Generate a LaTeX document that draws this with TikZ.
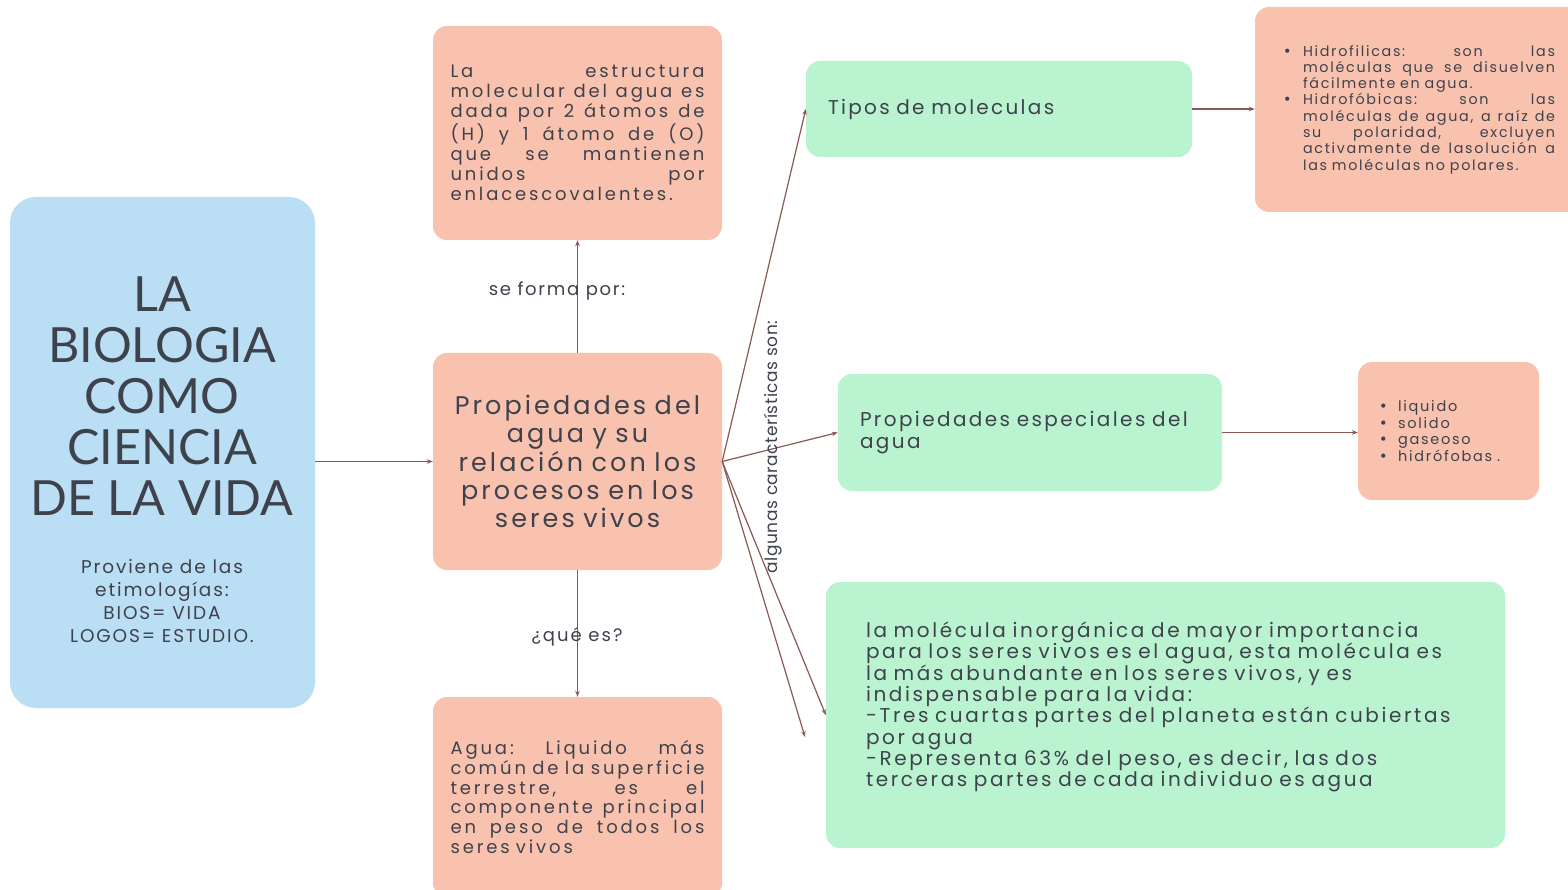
\documentclass[tikz,border=0pt]{standalone}
\usepackage{fontspec}
\usetikzlibrary{arrows.meta}
\setmainfont{Poppins}
\newfontfamily\titlefont{Lato}
\newfontfamily\pop{Poppins}
\newfontfamily\dej{DejaVu Sans}
\definecolor{bluebox}{RGB}{186,222,243}
\definecolor{salmon}{RGB}{249,194,174}
\definecolor{mint}{RGB}{185,243,208}
\definecolor{ink}{RGB}{62,66,76}
\definecolor{arrowc}{RGB}{140,88,84}
\newcommand{\jl}[2]{\makebox[#1][s]{\spaceskip=0.3em plus 1fil\relax\xspaceskip=\spaceskip #2}}
\newcommand{\bul}[1]{\makebox[#1][l]{{\dej •}}}
\begin{document}
\begin{tikzpicture}[x=1pt,y=-1pt,
  box/.style={rounded corners=14pt, inner sep=0pt, text=ink},
  conn/.style={draw=arrowc, line width=1.2pt, -{Stealth[length=6pt,width=4.5pt]}},
  lbl/.style={text=ink, inner sep=0pt}]
\path[use as bounding box, clip] (0,0) rectangle (1568,890);
\fill[white] (0,0) rectangle (1568,890);

% left blue box
\node[box, fill=bluebox, rounded corners=26pt, minimum width=305pt, minimum height=511pt] (bio) at (162.5,452.5) {};
\node[lbl, align=center, font=\titlefont\fontsize{48.5}{51}\selectfont] (title) at (162,396) {LA\\BIOLOGIA\\COMO\\CIENCIA\\DE LA VIDA};
\node[lbl, align=center, font=\pop\addfontfeature{LetterSpace=10}\fontsize{18.5}{23.3}\selectfont] (sub) at (162,601) {Proviene de las\\etimologías:\\BIOS= VIDA\\LOGOS= ESTUDIO.};

% center column
\node[box, fill=salmon, minimum width=289pt, minimum height=217pt, text width=284pt, align=center, font=\pop\addfontfeature{LetterSpace=12}\fontsize{25.5}{28.3}\selectfont] (prop) at (577.5,461.5) {Propiedades del\\agua y su\\relación con los\\procesos en los\\seres vivos};

\node[box, fill=salmon, minimum width=289pt, minimum height=214pt, text width=254pt, align=left, font=\pop\addfontfeature{LetterSpace=16}\fontsize{18}{20}\selectfont] (estr) at (577.5,133) {\jl{254pt}{La estructura}\\\jl{254pt}{molecular del agua es}\\\jl{254pt}{dada por 2 átomos de}\\\jl{254pt}{(H) y 1 átomo de (O)}\\\jl{254pt}{que se mantienen}\\\jl{254pt}{unidos por}\\enlacescovalentes.};

\node[box, fill=salmon, minimum width=289pt, minimum height=200pt, text width=254pt, align=left, font=\pop\addfontfeature{LetterSpace=16}\fontsize{18}{19.7}\selectfont] (agua) at (577.5,797) {\jl{254pt}{Agua: Liquido más}\\\jl{254pt}{común de la superficie}\\\jl{254pt}{terrestre, es el}\\\jl{254pt}{componente principal}\\\jl{254pt}{en peso de todos los}\\seres vivos};

% right side
\node[box, fill=mint, minimum width=386pt, minimum height=96pt, text width=342pt, align=left, font=\pop\addfontfeature{LetterSpace=11.5}\fontsize{20}{22}\selectfont] (tipos) at (999,109) {\raisebox{-3pt}{Tipos de moleculas}};

\node[box, fill=salmon, minimum width=328pt, minimum height=205pt, text width=272pt, align=left, font=\pop\addfontfeature{LetterSpace=12}\fontsize{14.3}{16.3}\selectfont] (hidro) at (1419,109.5) {%
\bul{20pt}\jl{252pt}{Hidrofilicas: son las}\\
\hspace*{20pt}\jl{252pt}{moléculas que se disuelven}\\
\hspace*{20pt}fácilmente en agua.\\
\bul{20pt}\jl{252pt}{Hidrofóbicas: son las}\\
\hspace*{20pt}\jl{252pt}{moléculas de agua, a raíz de}\\
\hspace*{20pt}\jl{252pt}{su polaridad, excluyen}\\
\hspace*{20pt}\jl{252pt}{activamente de lasolución a}\\
\hspace*{20pt}las moléculas no polares.};

\node[box, fill=mint, minimum width=384pt, minimum height=117pt, text width=340pt, align=left, font=\pop\addfontfeature{LetterSpace=12}\fontsize{20}{22}\selectfont] (pesp) at (1030,432.5) {\raisebox{-3pt}{Propiedades especiales del}\\\raisebox{-3pt}{agua}};

\node[box, fill=salmon, minimum width=181pt, minimum height=138pt, text width=139pt, align=left, font=\pop\addfontfeature{LetterSpace=12}\fontsize{14.5}{16.5}\selectfont] (lista) at (1448.5,431) {\bul{19pt}liquido\\\bul{19pt}solido\\\bul{19pt}gaseoso\\\bul{19pt}hidrófobas .};

\node[box, fill=mint, minimum width=679pt, minimum height=266pt] (big) at (1165.5,715) {};
\node[lbl, text width=600pt, align=left, font=\pop\addfontfeature{LetterSpace=13}\fontsize{20}{21.3}\selectfont] (bigtxt) at (1166,707) {la molécula inorgánica de mayor importancia\\para los seres vivos es el agua, esta molécula es\\la más abundante en los seres vivos, y es\\indispensable para la vida:\\-Tres cuartas partes del planeta están cubiertas\\por agua\\-Representa 63\% del peso, es decir, las dos\\terceras partes de cada individuo es agua};

% connectors
\coordinate (free) at (805,737);
\draw[conn] (bio.east |- prop.west) -- (prop.west);
\draw[conn] (prop.north) -- (estr.south);
\draw[conn] (prop.south) -- (agua.north);
\draw[conn] (prop.east) -- (tipos.west);
\draw[conn] (prop.east) -- (pesp.west);
\draw[conn] (prop.east) -- (big.west);
\draw[conn] (prop.east) -- (free);
\draw[conn] (tipos.east) -- (tipos.east -| hidro.west);
\draw[conn] (pesp.east) -- (pesp.east -| lista.west);

% labels
\node[lbl, font=\pop\addfontfeature{LetterSpace=9.5}\fontsize{18}{20}\selectfont] (seforma) at (557,291) {se forma por:};
\node[lbl, font=\pop\addfontfeature{LetterSpace=11}\fontsize{18}{20}\selectfont] (quees) at (577,637) {¿qué es?};
\node[lbl, rotate=90, font=\pop\addfontfeature{LetterSpace=3}\fontsize{17}{20}\selectfont] (alg) at (773,447) {algunas características son:};
\end{tikzpicture}
\end{document}
